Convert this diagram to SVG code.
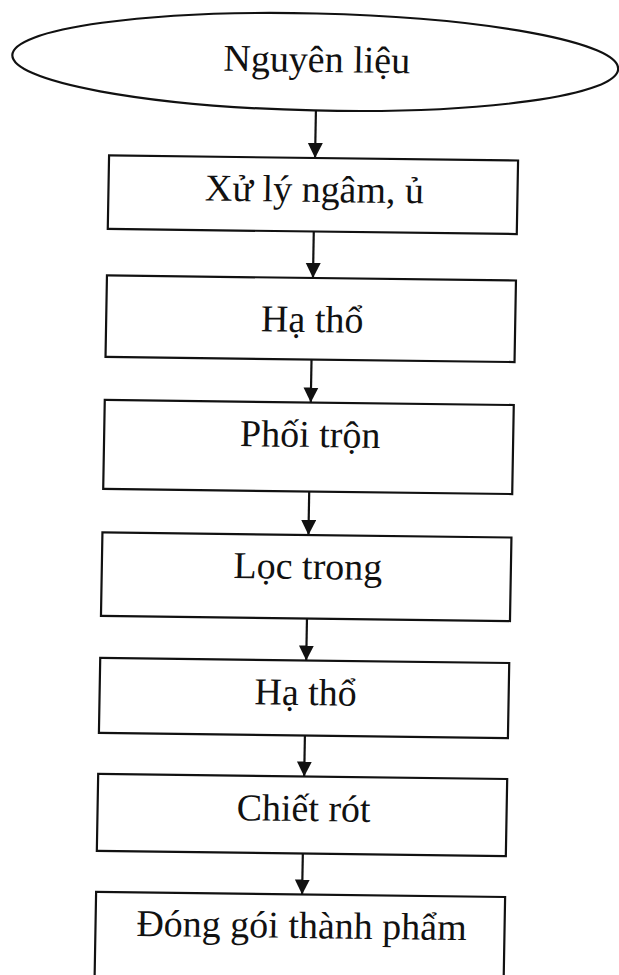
<svg xmlns="http://www.w3.org/2000/svg" width="619" height="975" viewBox="0 0 619 975">
<style>
.box{fill:#fff;stroke:#111;stroke-width:2.2}
.lbl{font-family:"Liberation Serif","Times New Roman","DejaVu Serif",serif;font-size:38px;fill:#111;text-anchor:middle}
.conn{stroke:#111;stroke-width:2.2;fill:none;marker-end:url(#ah)}
</style>
<defs>
<marker id="ah" markerWidth="16" markerHeight="16" refX="15" refY="7.5" orient="auto" markerUnits="userSpaceOnUse">
<path d="M0,0 L15,7.5 L0,15 z" fill="#111"/>
</marker>
</defs>
<rect width="619" height="975" fill="#fff"/>
<g transform="matrix(1 0.0125 -0.0176 1 9.856 -3.85)">
<g id="n0">
<ellipse class="box" cx="306.5" cy="62" rx="303" ry="48.5" transform="rotate(0.6 306.5 62)"/>
<text class="lbl" x="308" y="72">Nguyên liệu</text>
</g>
<g id="n1">
<rect class="box" x="102" y="158" width="409" height="73.5"/>
<text class="lbl" x="308" y="202">Xử lý ngâm, ủ</text>
</g>
<g id="n2">
<rect class="box" x="102" y="278" width="409" height="81.5"/>
<text class="lbl" x="308" y="332">Hạ thổ</text>
</g>
<g id="n3">
<rect class="box" x="102" y="402.5" width="409" height="89"/>
<text class="lbl" x="308" y="447">Phối trộn</text>
</g>
<g id="n4">
<rect class="box" x="102" y="535" width="409" height="83.5"/>
<text class="lbl" x="308" y="579">Lọc trong</text>
</g>
<g id="n5">
<rect class="box" x="102" y="660.5" width="409" height="75"/>
<text class="lbl" x="308" y="705">Hạ thổ</text>
</g>
<g id="n6">
<rect class="box" x="102" y="776.5" width="409" height="77"/>
<text class="lbl" x="308" y="821">Chiết rót</text>
</g>
<g id="n7">
<rect class="box" x="102" y="894.5" width="409" height="100"/>
<text class="lbl" x="308" y="938">Đóng gói thành phẩm</text>
</g>
<g id="connectors">
<line class="conn" x1="308" y1="110.5" x2="308" y2="158"/>
<line class="conn" x1="308" y1="231.5" x2="308" y2="278"/>
<line class="conn" x1="308" y1="359.5" x2="308" y2="402.5"/>
<line class="conn" x1="308" y1="491.5" x2="308" y2="535"/>
<line class="conn" x1="308" y1="618.5" x2="308" y2="660.5"/>
<line class="conn" x1="308" y1="735.5" x2="308" y2="776.5"/>
<line class="conn" x1="308" y1="853.5" x2="308" y2="894.5"/>
</g>
</g>
</svg>
